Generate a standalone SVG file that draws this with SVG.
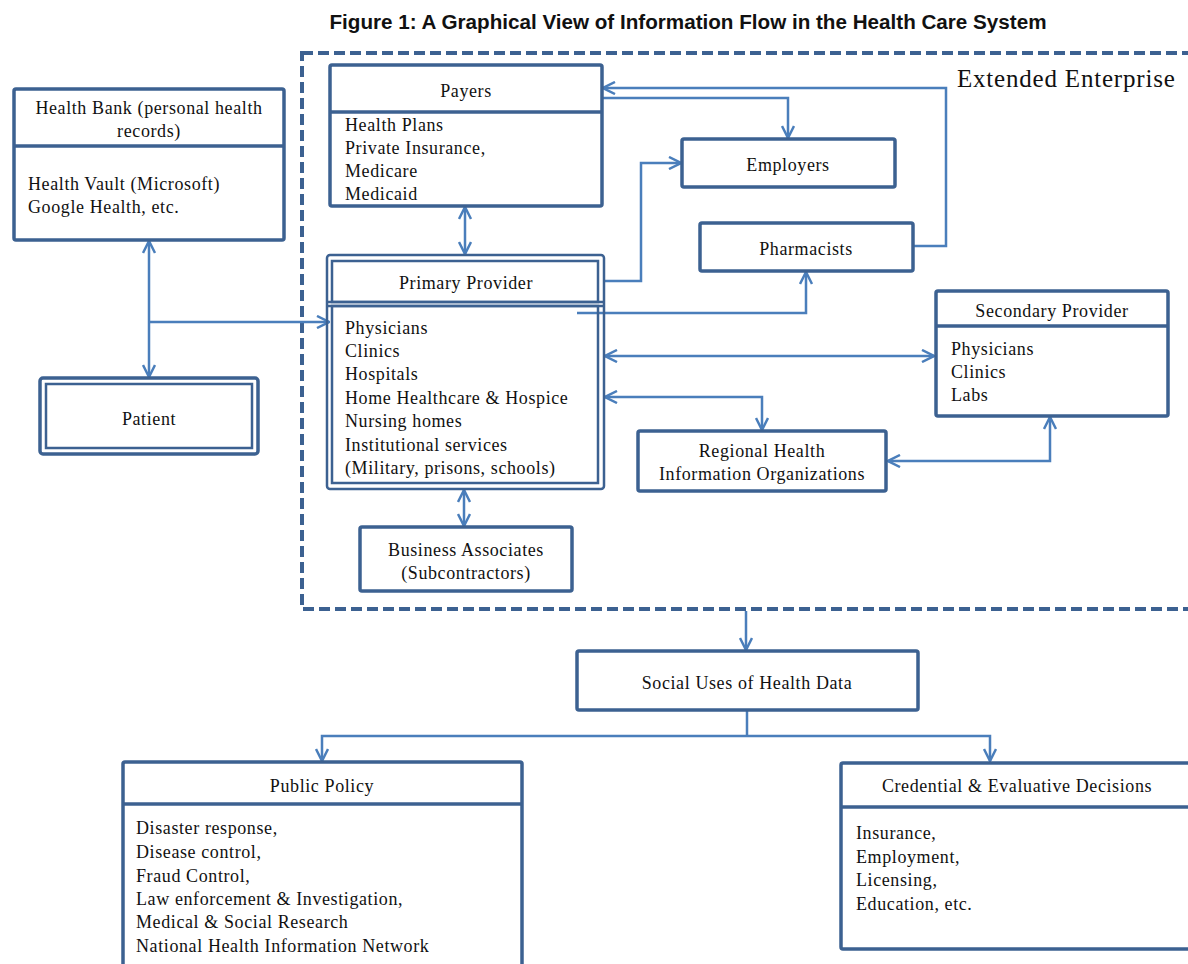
<svg xmlns="http://www.w3.org/2000/svg" width="1188" height="964" viewBox="0 0 1188 964">
<defs>
<style>
.box{fill:#fff;stroke:#3c6191;stroke-width:3.5;}
.box2{fill:none;stroke:#3c6191;stroke-width:2.5;}
.div{stroke:#3c6191;stroke-width:3.5;}
.con{fill:none;stroke:#4a7ebb;stroke-width:2.5;}
.t{font-family:"Liberation Serif","Times New Roman",serif;font-size:18px;letter-spacing:0.6px;fill:#111;}
.m{text-anchor:middle;}
</style>
<marker id="ah" viewBox="0 0 14 14" refX="13" refY="7" markerWidth="14" markerHeight="14" orient="auto-start-reverse" markerUnits="userSpaceOnUse">
<path d="M1,1 L13,7 L1,13" fill="none" stroke="#4a7ebb" stroke-width="2.5"/>
</marker>
</defs>
<rect width="1188" height="964" fill="#fff"/>

<text x="688" y="29" text-anchor="middle" textLength="717" lengthAdjust="spacingAndGlyphs" style="font-family:'Liberation Sans',Arial,sans-serif;font-size:19.5px;font-weight:bold;fill:#111">Figure 1: A Graphical View of Information Flow in the Health Care System</text>

<g id="extended-enterprise">
<rect x="302" y="53" width="920" height="556" fill="none" stroke="#3c6191" stroke-width="4" stroke-dasharray="11 5"/>
<text x="957" y="87" style="font-family:'Liberation Serif','Times New Roman',serif;font-size:25px;letter-spacing:0.8px;fill:#111">Extended Enterprise</text>
</g>

<g id="connectors">
<path class="con" d="M913,246 H946 V88 H603" marker-end="url(#ah)"/>
<path class="con" d="M603,98 H788 V138" marker-end="url(#ah)"/>
<path class="con" d="M604,281 H641 V163 H681" marker-end="url(#ah)"/>
<path class="con" d="M577,313 H806 V272" marker-end="url(#ah)"/>
<path class="con" d="M605,356 H934" marker-start="url(#ah)" marker-end="url(#ah)"/>
<path class="con" d="M605,397 H762 V430" marker-start="url(#ah)" marker-end="url(#ah)"/>
<path class="con" d="M888,461 H1050 V417" marker-start="url(#ah)" marker-end="url(#ah)"/>
<path class="con" d="M465,207 V254" marker-start="url(#ah)" marker-end="url(#ah)"/>
<path class="con" d="M464,490 V526" marker-start="url(#ah)" marker-end="url(#ah)"/>
<path class="con" d="M149,241 V377" marker-start="url(#ah)" marker-end="url(#ah)"/>
<path class="con" d="M149,322 H329" marker-end="url(#ah)"/>
<path class="con" d="M746,611 V650" marker-end="url(#ah)"/>
<path class="con" d="M747,711 V736"/>
<path class="con" d="M322,761 V736 H990 V761" marker-start="url(#ah)" marker-end="url(#ah)"/>
</g>

<g id="health-bank">
<rect class="box" x="14" y="89" width="270" height="151" rx="2"/>
<line class="div" x1="14" y1="146" x2="284" y2="146"/>
<text class="t m" x="149" y="114">Health Bank (personal health</text>
<text class="t m" x="149" y="137">records)</text>
<text class="t" x="28" y="190">Health Vault (Microsoft)</text>
<text class="t" x="28" y="213">Google Health, etc.</text>
</g>

<g id="patient">
<rect class="box" x="40" y="378" width="218" height="76" rx="3"/>
<rect class="box2" x="46" y="384" width="206" height="64"/>
<text class="t m" x="149" y="425">Patient</text>
</g>

<g id="payers">
<rect class="box" x="330" y="65" width="272" height="141" rx="2"/>
<line class="div" x1="330" y1="112" x2="602" y2="112"/>
<text class="t m" x="466" y="97">Payers</text>
<text class="t" x="345" y="131">Health Plans</text>
<text class="t" x="345" y="154">Private Insurance,</text>
<text class="t" x="345" y="177">Medicare</text>
<text class="t" x="345" y="200">Medicaid</text>
</g>

<g id="employers">
<rect class="box" x="682" y="139" width="213" height="48" rx="2"/>
<text class="t m" x="788" y="171">Employers</text>
</g>

<g id="pharmacists">
<rect class="box" x="700" y="223" width="213" height="48" rx="2"/>
<text class="t m" x="806" y="255">Pharmacists</text>
</g>

<g id="primary-provider">
<rect class="box2" x="327" y="255" width="277" height="234" rx="3" fill="#fff"/>
<rect class="box2" x="332" y="261" width="266" height="41"/>
<rect class="box2" x="332" y="306" width="266" height="177"/>
<line class="box2" x1="327" y1="302" x2="604" y2="302"/>
<line class="box2" x1="327" y1="306" x2="604" y2="306"/>
<text class="t m" x="466" y="289">Primary Provider</text>
<text class="t" x="345" y="334">Physicians</text>
<text class="t" x="345" y="357">Clinics</text>
<text class="t" x="345" y="380">Hospitals</text>
<text class="t" x="345" y="404">Home Healthcare &amp; Hospice</text>
<text class="t" x="345" y="427">Nursing homes</text>
<text class="t" x="345" y="451">Institutional services</text>
<text class="t" x="345" y="474">(Military, prisons, schools)</text>
</g>

<g id="secondary-provider">
<rect class="box" x="936" y="291" width="232" height="125" rx="2"/>
<line class="div" x1="936" y1="326" x2="1168" y2="326"/>
<text class="t m" x="1052" y="317">Secondary Provider</text>
<text class="t" x="951" y="355">Physicians</text>
<text class="t" x="951" y="378">Clinics</text>
<text class="t" x="951" y="401">Labs</text>
</g>

<g id="regional-hio">
<rect class="box" x="638" y="431" width="248" height="60" rx="2"/>
<text class="t m" x="762" y="457">Regional Health</text>
<text class="t m" x="762" y="480">Information Organizations</text>
</g>

<g id="business-associates">
<rect class="box" x="360" y="527" width="212" height="64" rx="2"/>
<text class="t m" x="466" y="556">Business Associates</text>
<text class="t m" x="466" y="579">(Subcontractors)</text>
</g>

<g id="social-uses">
<rect class="box" x="577" y="651" width="341" height="59" rx="2"/>
<text class="t m" x="747" y="689">Social Uses of Health Data</text>
</g>

<g id="public-policy">
<rect class="box" x="123" y="762" width="399" height="230" rx="2"/>
<line class="div" x1="123" y1="804" x2="522" y2="804"/>
<text class="t m" x="322" y="792">Public Policy</text>
<text class="t" x="136" y="834">Disaster response,</text>
<text class="t" x="136" y="858">Disease control,</text>
<text class="t" x="136" y="882">Fraud Control,</text>
<text class="t" x="136" y="905">Law enforcement &amp; Investigation,</text>
<text class="t" x="136" y="928">Medical &amp; Social Research</text>
<text class="t" x="136" y="952">National Health Information Network</text>
</g>

<g id="credential-decisions">
<rect class="box" x="841" y="763" width="380" height="186" rx="2"/>
<line class="div" x1="841" y1="807" x2="1221" y2="807"/>
<text class="t m" x="1017" y="792">Credential &amp; Evaluative Decisions</text>
<text class="t" x="856" y="839">Insurance,</text>
<text class="t" x="856" y="863">Employment,</text>
<text class="t" x="856" y="886">Licensing,</text>
<text class="t" x="856" y="910">Education, etc.</text>
</g>
</svg>
